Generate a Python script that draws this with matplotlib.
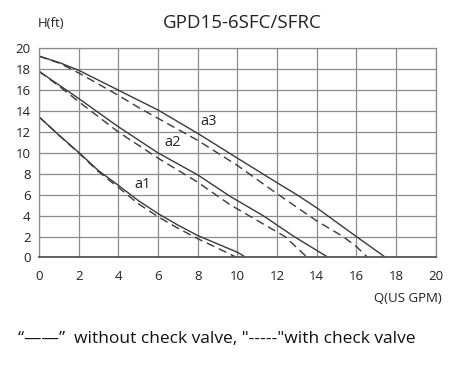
import matplotlib
matplotlib.use('Agg')
import matplotlib.pyplot as plt

plt.rcParams['font.family'] = ['Open Sans', 'DejaVu Sans']

# ── Pump curves (Q in US GPM, H in ft) ───────────────────────────────────────
a3_q_solid = [0, 1, 2, 4, 6, 8, 10, 12, 13, 14, 16, 17.48]
a3_h_solid = [19.25, 18.65, 17.9, 16.0, 14.1, 11.87, 9.5, 7.15, 6.0, 4.75, 2.0, 0]
a3_q_dash  = [0, 1, 2, 4, 5.1, 8, 10, 12, 14, 15.33, 16, 16.57]
a3_h_dash  = [19.25, 18.6, 17.65, 15.5, 14.25, 11.2, 8.8, 6.1, 3.5, 2.0, 1.05, 0]

a2_q_solid = [0, 2, 4, 6, 8, 9.63, 11.3, 12.86, 14.59]
a2_h_solid = [17.8, 15.2, 12.5, 10.0, 7.9, 5.85, 4.0, 2.0, 0]
a2_q_dash  = [0, 1, 2, 4, 6, 8, 9.63, 12.4, 13.53]
a2_h_dash  = [17.8, 16.4, 14.9, 12.0, 9.5, 7.2, 5.05, 2.0, 0]

a1_q_solid = [0, 1, 2, 3, 4, 5, 6, 7, 8, 9, 10, 10.44]
a1_h_solid = [13.45, 11.7, 10.05, 8.3, 6.9, 5.45, 4.2, 3.1, 2.1, 1.3, 0.5, 0]
a1_q_dash  = [0, 1, 2, 3, 4, 5, 6, 7, 8, 9, 9.97]
a1_h_dash  = [13.45, 11.7, 10.0, 8.2, 6.7, 5.15, 3.9, 2.8, 1.8, 0.9, 0]

labels     = ['a3', 'a2', 'a1']
label_q    = [8.57, 6.76, 5.24]
label_h    = [12.97, 10.95, 7.0]

x_ticks = list(range(0, 21, 2))
y_ticks = list(range(0, 21, 2))

LINE = '#3a3a3a'
GRID = '#8c8c8c'

fig = plt.figure(figsize=(4.53, 3.67), dpi=100)
ax = fig.add_axes([0.0861, 0.2984, 0.8757, 0.57])

curves = [(a3_q_solid, a3_h_solid, a3_q_dash, a3_h_dash),
          (a2_q_solid, a2_h_solid, a2_q_dash, a2_h_dash),
          (a1_q_solid, a1_h_solid, a1_q_dash, a1_h_dash)]
for qs, hs, qd, hd in curves:
    ax.plot(qs, hs, color=LINE, lw=1.0, solid_capstyle='butt')
    ax.plot(qd, hd, color=LINE, lw=1.0, dashes=(6, 3.5))

for lab, q, h in zip(labels, label_q, label_h):
    ax.text(q, h, lab, fontsize=10.5, color='#222222', ha='center', va='center')

ax.set_xlim(0, 20)
ax.set_ylim(0, 20)
ax.set_xticks(x_ticks)
ax.set_yticks(y_ticks)
ax.grid(True, color=GRID, lw=0.9)
ax.set_axisbelow(True)
for s in ax.spines.values():
    s.set_color(GRID)
    s.set_linewidth(0.9)
ax.spines['bottom'].set_color('#555555')
ax.spines['bottom'].set_linewidth(1.3)
ax.tick_params(length=0, labelsize=9.5, colors='#222222', pad=6)
ax.tick_params(axis='x', pad=9)

fig.text(0.084, 0.937, 'H(ft)', fontsize=9.5, color='#222222', ha='left', va='center')
fig.text(0.535, 0.937, 'GPD15-6SFC/SFRC', fontsize=13.5, color='#222222',
         ha='center', va='center')
fig.text(0.975, 0.188, 'Q(US GPM)', fontsize=9.5, color='#222222',
         ha='right', va='center')
fig.text(0.04, 0.075, '\u201c\u2014\u2014\u201d  without check valve, "-----"with check valve',
         fontsize=12.5, color='#111111', ha='left', va='center')

fig.savefig('out.png', dpi=100)
